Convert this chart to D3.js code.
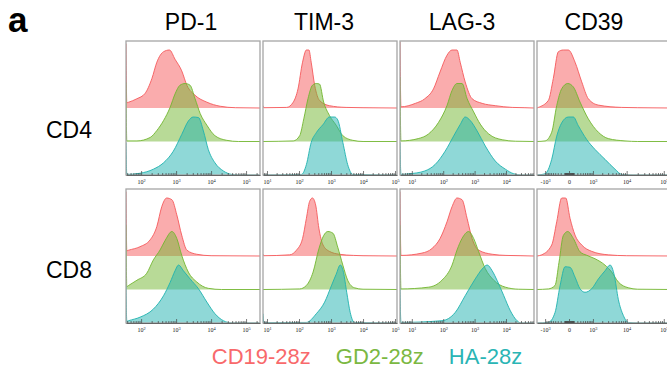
<!DOCTYPE html>
<html>
<head>
<meta charset="utf-8">
<script src="https://cdn.jsdelivr.net/npm/d3@7"></script>
<style>
  body { margin: 0; background: #fff; }
  svg { display: block; font-family: "Liberation Sans", Arial, sans-serif; }
</style>
</head>
<body>
<div id="chart"></div>
<script>
// columns = markers, rows = T cell subsets, stacked histograms = CAR groups
const markers = ["PD-1", "TIM-3", "LAG-3", "CD39"];
const subsets = ["CD4", "CD8"];
const groups = ["CD19-28z", "GD2-28z", "HA-28z"];
const groupColors = ["#F5595B", "#72B52F", "#1FB2AF"];
const legendColors = ["#F8696B", "#7BB842", "#2AB5B5"];

// x range of each marker (fluorescence intensity)
const xDomains = [[37, 250000], [7.5, 115000], [4.2, 78000], [-1840, 156000]];
const xLabelTicks = [
  [100, 1000, 10000, 100000],
  [10, 100, 1000, 10000, 100000],
  [10, 100, 1000, 10000],
  [-1000, 0, 1000, 10000, 100000]
];

// histograms as [intensity, % of mode], order: CD19-28z, GD2-28z, HA-28z
const pd1_cd4 = [
  [[37,111],[39,9],[44,10],[76,16],[129,25],[204,51],[282,79],[437,97],[646,100],[933,84],[1450,64],[2040,39],[3470,22],[7590,10],[18200,3],[50100,0.5]],
  [[37,102],[39,1],[76,1],[182,7],[282,19],[437,36],[676,59],[933,82],[1290,97],[1820,100],[2510,97],[3470,74],[4900,48],[7590,28],[12900,10],[28200,2],[60000,0]],
  [[37,56],[39,1],[93,3],[224,10],[437,21],[832,41],[1450,70],[2240,93],[3090,100],[4370,99],[6030,76],[8320,44],[12900,21],[22400,7],[38900,1],[60000,0]]
];
const tim3_cd4 = [
  [[7.5,4],[8,0.5],[41,1],[66,10],[93,33],[129,79],[170,100],[204,100],[240,79],[309,39],[437,13],[891,4],[2950,1],[10000,0.5]],
  [[66,1],[105,10],[141,39],[191,74],[263,97],[347,100],[437,99],[589,68],[891,45],[1450,28],[2340,10],[4790,2],[10000,0]],
  [[120,1],[170,18],[240,56],[347,73],[562,87],[891,100],[1290,100],[1620,95],[2340,56],[3310,18],[4790,1]]
];
const lag3_cd4 = [
  [[4.2,114],[4.5,2],[13,8],[26,16],[49,33],[79,62],[132,91],[191,100],[275,100],[347,79],[501,45],[832,16],[1740,8],[4570,4],[15850,1],[40000,0.5]],
  [[4.2,111],[4.5,1],[16,5],[34,13],[71,33],[132,62],[191,88],[275,100],[398,100],[575,74],[933,51],[1510,30],[2820,13],[7590,3],[20000,0.5]],
  [[4.2,56],[4.5,1],[8,2],[26,7],[55,18],[115,41],[214,67],[347,87],[501,100],[724,94],[1200,76],[2190,50],[4570,24],[9550,10],[17800,2],[30000,0]]
];
const cd39_cd4 = [
  [[-1670,1],[-768,13],[-486,51],[-278,97],[-126,100],[-13,100],[134,79],[354,45],[680,16],[1515,5],[7300,1],[20000,0.5]],
  [[-1010,1],[-568,16],[-338,62],[-170,91],[-24,100],[91,94],[289,68],[680,39],[1515,16],[3040,5],[9000,1],[20000,0]],
  [[-1010,2],[-568,27],[-338,67],[-170,90],[-13,100],[91,100],[230,85],[590,61],[1180,44],[2430,27],[4740,10],[7300,1],[15000,0]]
];
const pd1_cd8 = [
  [[37,111],[39,9],[44,10],[93,16],[182,28],[282,51],[389,85],[537,100],[759,97],[1047,71],[1445,36],[2040,10],[3890,3],[10000,0.5]],
  [[37,111],[39,5],[44,7],[76,16],[145,28],[224,51],[347,68],[490,85],[759,100],[1047,88],[1445,59],[2240,30],[3890,13],[8320,2],[20000,0]],
  [[37,64],[39,3],[44,4],[93,10],[224,24],[437,47],[676,70],[933,90],[1175,100],[1622,90],[2512,76],[4365,59],[7586,36],[12900,16],[22400,4],[40000,0]]
];
const tim3_cd8 = [
  [[7.5,3],[8,0.5],[51,2],[83,10],[129,30],[170,65],[214,94],[263,100],[331,88],[417,48],[562,19],[891,8],[1820,3],[5000,1],[10000,0.5]],
  [[105,1],[170,7],[275,30],[417,70],[589,93],[794,100],[1150,97],[1620,73],[2340,42],[3310,16],[5370,3],[10000,0.5]],
  [[7.5,16],[8,0.5],[170,1],[347,16],[631,36],[1023,64],[1445,84],[1950,100],[2455,87],[3090,53],[3981,18],[5370,1]]
];
const lag3_cd8 = [
  [[4.2,111],[4.5,1],[21,5],[44,13],[79,30],[132,59],[191,85],[275,100],[398,97],[575,65],[832,30],[1350,10],[3630,3],[10000,1],[30000,0.5]],
  [[4.2,111],[4.5,1],[34,4],[91,16],[191,42],[275,68],[398,88],[646,100],[933,88],[1350,65],[2190,36],[4070,16],[9550,4],[25000,0.5]],
  [[4.2,60],[4.5,1],[91,4],[240,18],[501,47],[1047,76],[1738,93],[2512,100],[3631,90],[5248,73],[8511,47],[13800,21],[22400,4],[30000,0]]
];
const cd39_cd8 = [
  [[-1300,2],[-568,19],[-338,59],[-170,100],[-67,100],[19,65],[134,36],[354,19],[905,8],[3040,2],[10000,0.5]],
  [[-768,1],[-408,7],[-254,47],[-126,93],[-24,100],[91,88],[289,65],[590,59],[1180,53],[2430,42],[3820,30],[5860,13],[11100,3],[20000,0.5]],
  [[-768,1],[-408,18],[-221,64],[-83,97],[19,96],[134,79],[289,59],[500,53],[905,59],[1515,76],[2430,90],[3420,100],[4530,82],[5860,41],[8100,13],[11100,1],[20000,0]]
];
const histograms = [
  [pd1_cd4, tim3_cd4, lag3_cd4, cd39_cd4],
  [pd1_cd8, tim3_cd8, lag3_cd8, cd39_cd8]
];

const width = 667, height = 374;
const panelW = 134, panelH = 134;
const panelLeft = 126, colStep = 137;
const panelTop = 41, rowStep = 148;
const peakH = 58;
const titleX = [191, 324, 462, 594];
const rowLabelY = [97, 89];

const svg = d3.select("#chart").append("svg")
  .attr("width", width)
  .attr("height", height);

function makeX(c, left) {
  const s = c === 3 ? d3.scaleSymlog().constant(300) : d3.scaleLog();
  return s.domain(xDomains[c]).range([left, left + panelW]);
}

function axisTicks(c, x) {
  if (c !== 3) {
    const [a, b] = xDomains[c];
    return x.ticks().filter(v => v >= a && v <= b);
  }
  // biexponential-style minor ticks, dense around zero
  let t = [];
  d3.range(10, 100, 10).forEach(v => t.push(v, -v));
  d3.range(100, 1000, 100).forEach(v => t.push(v, -v));
  d3.range(1000, 10000, 1000).forEach(v => t.push(v));
  d3.range(10000, 100001, 10000).forEach(v => t.push(v));
  t.push(-1000, 0);
  return t.sort((p, q) => p - q);
}

function tickLabel(sel, labels) {
  sel.each(function (d) {
    const t = d3.select(this).text(null);
    if (!labels.includes(d)) return;
    if (d === 0) { t.text("0"); return; }
    const e = Math.round(Math.log10(Math.abs(d)));
    t.append("tspan").text((d < 0 ? "-" : "") + "10");
    t.append("tspan").attr("dy", "-0.45em").attr("font-size", "0.72em").text(e);
  });
}

subsets.forEach((sub, r) => {
  const top = panelTop + r * rowStep;
  const bottom = top + panelH;
  const lane = d3.scalePoint().domain(groups).range([top + panelH / 2, bottom]);

  // row label
  svg.append("text")
    .attr("x", 69)
    .attr("y", top + rowLabelY[r])
    .attr("text-anchor", "middle")
    .attr("font-size", 23)
    .text(sub);

  markers.forEach((m, c) => {
    const left = panelLeft + c * colStep;
    const x = makeX(c, left);
    const dom = x.domain();

    const clipId = "clip-" + r + "-" + c;
    svg.append("clipPath").attr("id", clipId)
      .append("rect")
      .attr("x", left).attr("y", top)
      .attr("width", panelW).attr("height", panelH);

    const g = svg.append("g").attr("clip-path", "url(#" + clipId + ")");

    histograms[r][c].forEach((vals, k) => {
      const base = lane(groups[k]);
      const y = d3.scaleLinear().domain([0, 100]).range([base, base - peakH]);
      const pts = vals.slice();
      if (pts[0][0] > dom[0]) pts.unshift([dom[0], 0]);
      if (pts[pts.length - 1][0] < dom[1]) pts.push([dom[1], 0]);

      const area = d3.area()
        .x(d => x(d[0]))
        .y0(base)
        .y1(d => y(d[1]))
        .curve(d3.curveMonotoneX);
      const line = d3.line()
        .x(d => x(d[0]))
        .y(d => y(d[1]))
        .curve(d3.curveMonotoneX);

      g.append("path")
        .attr("d", area(pts))
        .attr("fill", groupColors[k])
        .attr("fill-opacity", 0.5);
      g.append("path")
        .attr("d", line(pts))
        .attr("fill", "none")
        .attr("stroke", groupColors[k])
        .attr("stroke-width", 0.9);
    });

    // panel frame
    svg.append("rect")
      .attr("x", left).attr("y", top)
      .attr("width", panelW).attr("height", panelH)
      .attr("fill", "none")
      .attr("stroke", "#a5a5a5")
      .attr("stroke-width", 1.3);

    // x axis
    const labels = xLabelTicks[c];
    const ax = svg.append("g")
      .attr("transform", "translate(0," + bottom + ")")
      .call(d3.axisBottom(x)
        .tickValues(axisTicks(c, x))
        .tickSizeInner(-2)
        .tickSizeOuter(0)
        .tickPadding(5));
    ax.select(".domain").attr("stroke", "#666").attr("stroke-width", 1);
    ax.selectAll(".tick line")
      .attr("stroke", "#444")
      .attr("stroke-width", 0.7)
      .filter(d => labels.includes(d))
      .attr("y2", -4);
    ax.selectAll(".tick text")
      .attr("font-family", "'Liberation Serif', serif")
      .attr("font-size", 6)
      .attr("fill", "#222")
      .call(tickLabel, labels);

    // column title
    if (r === 0) {
      svg.append("text")
        .attr("x", titleX[c])
        .attr("y", 30)
        .attr("text-anchor", "middle")
        .attr("font-size", 23)
        .text(m);
    }
  });
});

// panel letter
svg.append("text")
  .attr("x", 8)
  .attr("y", 32)
  .attr("font-size", 35)
  .attr("font-weight", "bold")
  .text("a");

// legend
const legend = svg.append("g");
const items = legend.selectAll("text")
  .data(groups)
  .enter().append("text")
  .attr("y", 364)
  .attr("font-size", 22)
  .attr("fill", (d, i) => legendColors[i])
  .text(d => d);
let lx = 0;
items.each(function () {
  d3.select(this).attr("x", lx);
  lx += this.getComputedTextLength() + 25;
});
lx -= 25;
legend.attr("transform", "translate(" + (367 - lx / 2) + ",0)");
</script>
</body>
</html>
